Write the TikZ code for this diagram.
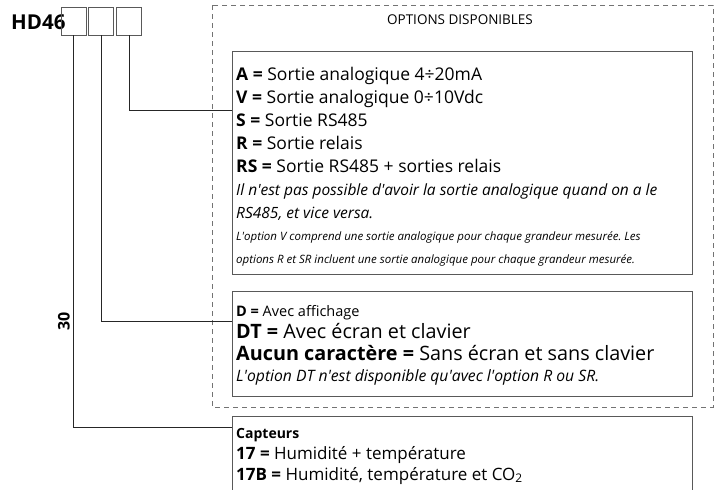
\documentclass[tikz,border=0pt]{standalone}
\usepackage{fontspec}
\setmainfont{Open Sans}[Ligatures=TeXOff]
\usetikzlibrary{calc}
\frenchspacing

\newcommand{\setfs}[1]{\fontsize{#1}{#1}\selectfont}

\tikzset{
  codecell/.style={draw=black!65, line width=0.8pt, minimum width=25, minimum height=28, inner sep=0pt},
  optbox/.style={draw=black!65, line width=0.9pt, inner sep=0pt, anchor=north west},
  link/.style={draw=black!85, line width=0.8pt},
  txt/.style={anchor=base west, inner sep=0pt},
}

\begin{document}
\begin{tikzpicture}[x=1pt, y=-1pt]
  \useasboundingbox (0,0) rectangle (721,490);

  % code
  \node[txt, font=\setfs{20.5}\bfseries] (hd) at (11,29) {HD46};
  \node[codecell] (c1) at (73.5,21) {};
  \node[codecell] (c2) at (101,21) {};
  \node[codecell] (c3) at (129,21) {};

  % options frame
  \draw[black!55, line width=0.8pt, dash pattern=on 5pt off 4pt] (212,5) rectangle (713,407);
  \node[font=\setfs{13.5}] (opt) at (460,20) {OPTIONS DISPONIBLES};

  % boxes
  \node[optbox, minimum width=460, minimum height=223] (boxA) at (232,51) {};
  \node[optbox, minimum width=460, minimum height=105] (boxD) at (232,291) {};
  \draw[black!65, line width=0.9pt] (232,495) |- (692,416) -- (692,495);

  \coordinate (inA) at (232,110);
  \coordinate (inD) at (232,321);
  \coordinate (inS) at (232,427);

  \draw[link] (c3.south) |- (inA);
  \draw[link] (c2.south) |- (inD);
  \draw[link] (c1.south) |- (inS);

  \node[rotate=90, font=\setfs{16}\bfseries] (len) at (64,321) {30};

  % output
  \node[txt, font=\setfs{17.5}] (a1) at (236,80) {\textbf{A =} Sortie analogique 4÷20mA};
  \node[txt, font=\setfs{17.5}] (a2) at (236,103) {\textbf{V =} Sortie analogique 0÷10Vdc};
  \node[txt, font=\setfs{17.5}] (a3) at (236,126.5) {\textbf{S =} Sortie RS485};
  \node[txt, font=\setfs{17.5}] (a4) at (236,149.5) {\textbf{R =} Sortie relais};
  \node[txt, font=\setfs{17.5}] (a5) at (236,172.5) {\textbf{RS =} Sortie RS485 + sorties relais};
  \node[txt, font=\setfs{15.5}\itshape] (a6) at (236,195) {Il n'est pas possible d'avoir la sortie analogique quand on a le};
  \node[txt, font=\setfs{15.5}\itshape] (a7) at (236,218) {RS485, et vice versa.};
  \node[txt, font=\setfs{11.5}\itshape] (a8) at (236,240) {L'option V comprend une sortie analogique pour chaque grandeur mesurée. Les};
  \node[txt, font=\setfs{11.5}\itshape] (a9) at (236,263) {options R et SR incluent une sortie analogique pour chaque grandeur mesurée.};

  % display
  \node[txt, font=\setfs{14.5}] (d1) at (236,316) {\textbf{D =} Avec affichage};
  \node[txt, font=\setfs{19.8}] (d2) at (236,338) {\textbf{DT =} Avec écran et clavier};
  \node[txt, font=\setfs{19.8}] (d3) at (236,360) {\textbf{Aucun caractère =} Sans écran et sans clavier};
  \node[txt, font=\setfs{15.7}\itshape] (d4) at (236,381) {L'option DT n'est disponible qu'avec l'option R ou SR.};

  % sensors
  \node[txt, font=\setfs{14}\bfseries] (s1) at (236,438) {Capteurs};
  \node[txt, font=\setfs{17}] (s2) at (236,459) {\textbf{17 =} Humidité + température};
  \node[txt, font=\setfs{17}] (s3) at (236,480) {\textbf{17B =} Humidité, température et CO\textsubscript{2}};
\end{tikzpicture}
\end{document}
